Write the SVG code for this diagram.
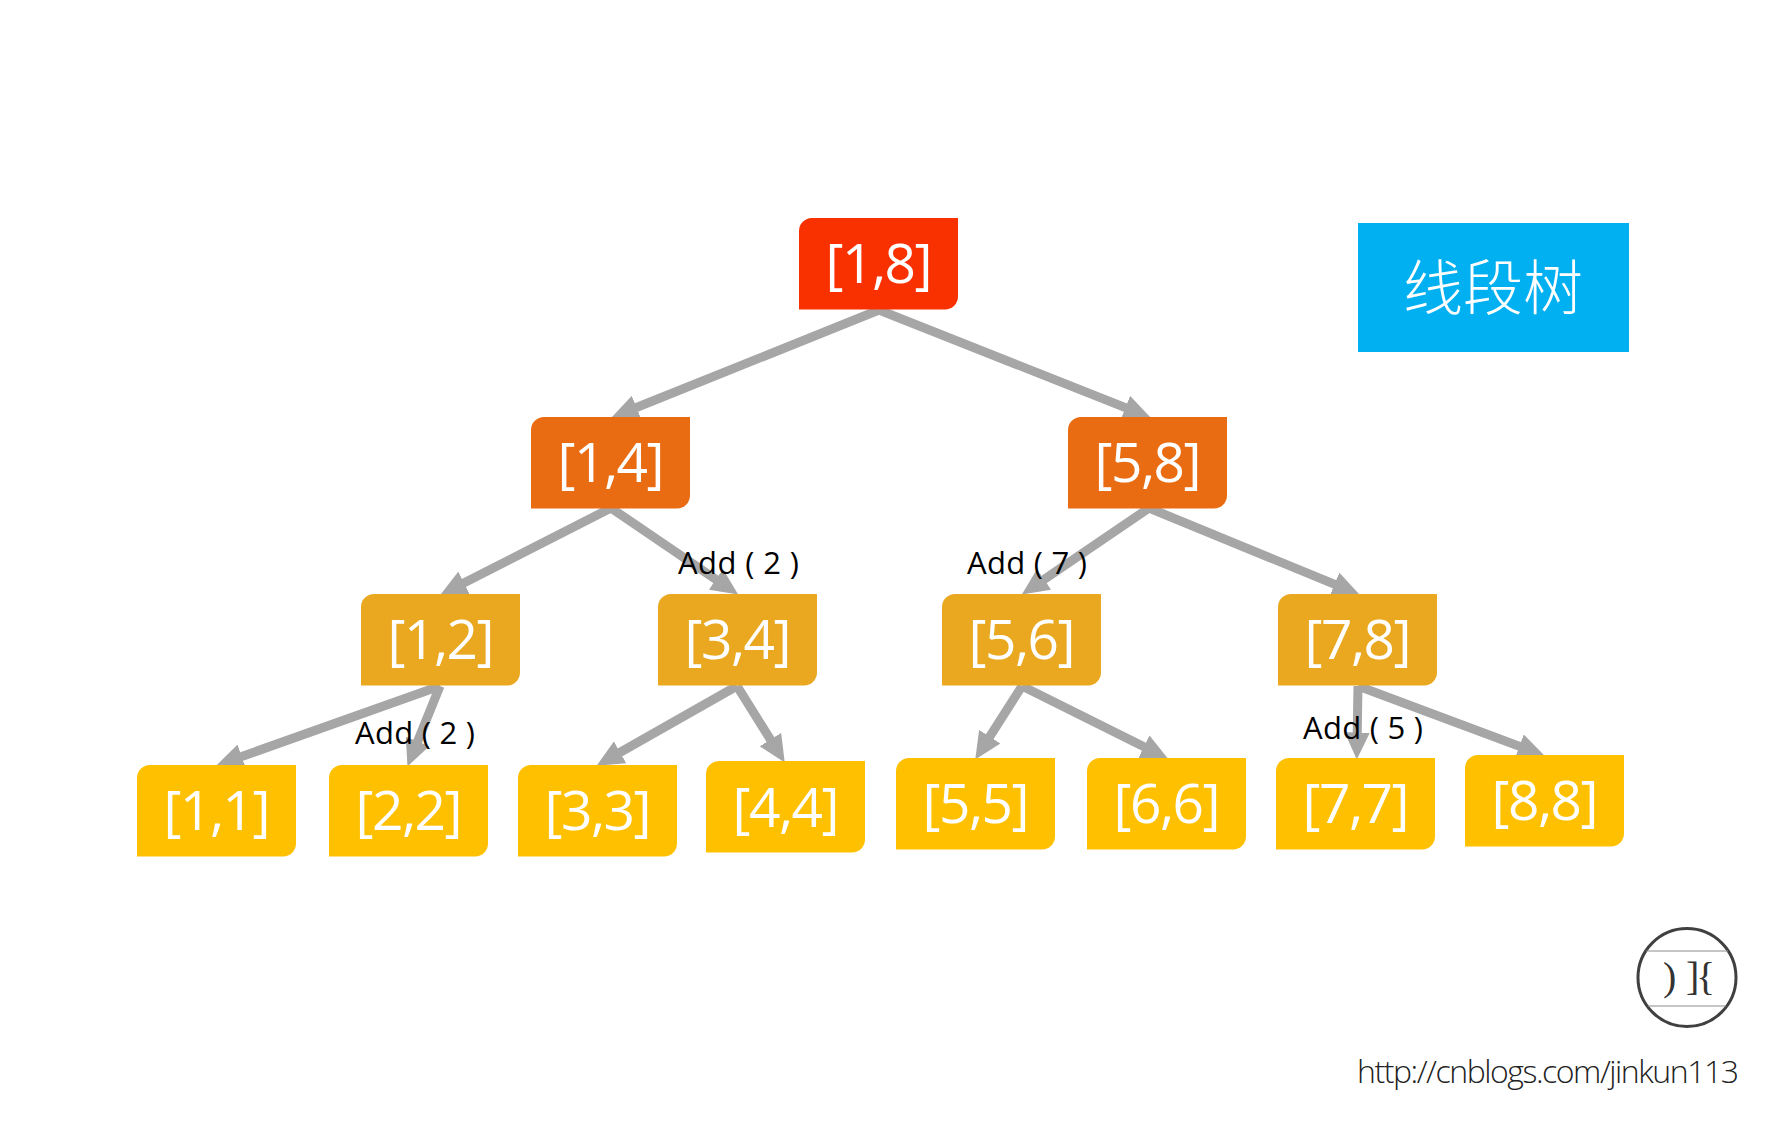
<svg xmlns="http://www.w3.org/2000/svg" width="1771" height="1129" viewBox="0 0 1771 1129">
<style>
.t{font-family:"Open Sans","Noto Sans","Liberation Sans",sans-serif;font-weight:400;font-size:55px;fill:#fff;text-anchor:middle}
.a{font-family:"Open Sans","Noto Sans","Liberation Sans",sans-serif;font-weight:400;font-size:31px;fill:#000}
.c{stroke:#a6a6a6;stroke-width:9;fill:none;marker-end:url(#ah)}
.r{fill:#f93100}.o{fill:#e96c13}.m{fill:#e9a820}.l{fill:#ffc000}
</style>
<defs>
<path id="n" d="M13,0H159V78.5A13,13 0 0 1 146,91.5H0V13A13,13 0 0 1 13,0Z"/>
<marker id="ah" viewBox="0 0 3 2.8" markerWidth="3" markerHeight="2.8" refX="1.5" refY="1.4" orient="auto"><path d="M0,0L3,1.4L0,2.8Z" fill="#a6a6a6"/></marker>
</defs>
<rect width="1771" height="1129" fill="#fff"/>
<g id="connectors">
<line class="c" x1="879" y1="310" x2="624" y2="412.5"/>
<line class="c" x1="879" y1="310" x2="1138" y2="412.6"/>
<line class="c" x1="611" y1="508" x2="452" y2="589"/>
<line class="c" x1="611" y1="508" x2="727" y2="587"/>
<line class="c" x1="1149" y1="508" x2="1033" y2="587"/>
<line class="c" x1="1149" y1="508" x2="1347" y2="589.4"/>
<line class="c" x1="440" y1="686" x2="229" y2="761"/>
<line class="c" x1="440" y1="686" x2="412.5" y2="754"/>
<line class="c" x1="737" y1="686" x2="608.4" y2="759"/>
<line class="c" x1="737" y1="686" x2="777.6" y2="751"/>
<line class="c" x1="1022" y1="686" x2="982.5" y2="748"/>
<line class="c" x1="1022" y1="686" x2="1156" y2="752.7"/>
<line class="c" x1="1358" y1="686" x2="1357" y2="746"/>
<line class="c" x1="1358" y1="686" x2="1532" y2="751"/>
</g>
<g id="n18"><use href="#n" class="r" x="799" y="218"/><text class="t" x="879" y="283" textLength="107">[1,8]</text></g>
<g id="n14"><use href="#n" class="o" x="531" y="417"/><text class="t" x="611" y="482" textLength="107">[1,4]</text></g>
<g id="n58"><use href="#n" class="o" x="1068" y="417"/><text class="t" x="1148" y="482" textLength="107">[5,8]</text></g>
<g id="n12"><use href="#n" class="m" x="361" y="594"/><text class="t" x="441" y="659" textLength="107">[1,2]</text></g>
<g id="n34"><use href="#n" class="m" x="658" y="594"/><text class="t" x="738" y="659" textLength="107">[3,4]</text></g>
<g id="n56"><use href="#n" class="m" x="942" y="594"/><text class="t" x="1022" y="659" textLength="107">[5,6]</text></g>
<g id="n78"><use href="#n" class="m" x="1278" y="594"/><text class="t" x="1358" y="659" textLength="107">[7,8]</text></g>
<g id="n11"><use href="#n" class="l" x="137" y="765"/><text class="t" x="217" y="830" textLength="107">[1,1]</text></g>
<g id="n22"><use href="#n" class="l" x="329" y="765"/><text class="t" x="409" y="830" textLength="107">[2,2]</text></g>
<g id="n33"><use href="#n" class="l" x="518" y="765"/><text class="t" x="598" y="830" textLength="107">[3,3]</text></g>
<g id="n44"><use href="#n" class="l" x="706" y="761"/><text class="t" x="786" y="827" textLength="107">[4,4]</text></g>
<g id="n55"><use href="#n" class="l" x="896" y="758"/><text class="t" x="976" y="823" textLength="107">[5,5]</text></g>
<g id="n66"><use href="#n" class="l" x="1087" y="758"/><text class="t" x="1167" y="823" textLength="107">[6,6]</text></g>
<g id="n77"><use href="#n" class="l" x="1276" y="758"/><text class="t" x="1356" y="823" textLength="107">[7,7]</text></g>
<g id="n88"><use href="#n" class="l" x="1465" y="755"/><text class="t" x="1545" y="820" textLength="107">[8,8]</text></g>
<g id="labels">
<text class="a" x="355" y="744" textLength="120">Add ( 2 )</text>
<text class="a" x="678" y="574" textLength="121">Add ( 2 )</text>
<text class="a" x="967" y="574" textLength="120">Add ( 7 )</text>
<text class="a" x="1303" y="739" textLength="120">Add ( 5 )</text>
</g>
<g id="title">
<rect x="1358" y="223" width="271" height="129" fill="#00b0f0"/>
<text x="1493" y="310" font-family="'Noto Sans CJK SC',sans-serif" font-weight="300" font-size="60" fill="#fff" text-anchor="middle">线段树</text>
</g>
<g id="logo">
<circle cx="1687" cy="977.5" r="49" fill="none" stroke="#404040" stroke-width="3"/>
<path d="M1646,951H1728M1648,1006H1726" stroke="#8c8c8c" stroke-width="1" fill="none"/>
<text x="1663 1675 1686 1696" y="990" font-family="'Liberation Serif',serif" font-size="40" fill="#333">) ]{</text>
</g>
<text id="url" x="1357" y="1083" font-family="'Open Sans','Noto Sans',sans-serif" font-weight="300" font-size="32" fill="#222" textLength="382">http://cnblogs.com/jinkun113</text>
</svg>
